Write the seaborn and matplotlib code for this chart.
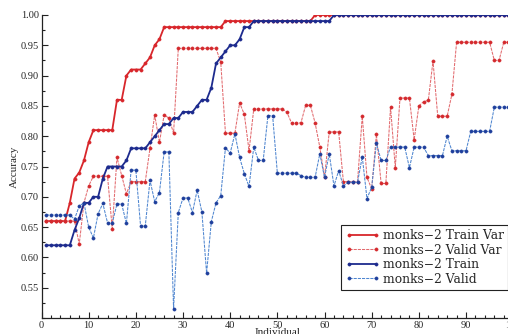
import matplotlib
matplotlib.use("Agg")
import matplotlib.pyplot as plt
import seaborn as sns
import pandas as pd
from matplotlib.ticker import MultipleLocator, FormatStrFormatter

# Generation index of each individual
individual = list(range(1, 101))

# Accuracy with variable-length encoding, training set
train_var = [
    0.66, 0.66, 0.66, 0.66, 0.66, 0.69, 0.73, 0.74, 0.76, 0.79,
    0.81, 0.81, 0.81, 0.81, 0.81, 0.86, 0.86, 0.90, 0.91, 0.91,
    0.91, 0.92, 0.93, 0.95, 0.96, 0.98, 0.98, 0.98, 0.98, 0.98,
    0.98, 0.98, 0.98, 0.98, 0.98, 0.98, 0.98, 0.98, 0.99, 0.99,
    0.99, 0.99, 0.99, 0.99, 0.99, 0.99, 0.99, 0.99, 0.99, 0.99,
    0.99, 0.99, 0.99, 0.99, 0.99, 0.99, 0.99, 1.00, 1.00, 1.00,
    1.00, 1.00, 1.00, 1.00, 1.00, 1.00, 1.00, 1.00, 1.00, 1.00,
    1.00, 1.00, 1.00, 1.00, 1.00, 1.00, 1.00, 1.00, 1.00, 1.00,
    1.00, 1.00, 1.00, 1.00, 1.00, 1.00, 1.00, 1.00, 1.00, 1.00,
    1.00, 1.00, 1.00, 1.00, 1.00, 1.00, 1.00, 1.00, 1.00, 1.00,
]

# Accuracy with variable-length encoding, validation set
valid_var = [
    0.66, 0.66, 0.66, 0.66, 0.66, 0.66, 0.66, 0.622, 0.69, 0.718,
    0.734, 0.734, 0.734, 0.734, 0.647, 0.765, 0.735, 0.705, 0.725, 0.725,
    0.725, 0.725, 0.78, 0.835, 0.79, 0.835, 0.83, 0.805, 0.945, 0.945,
    0.945, 0.945, 0.945, 0.945, 0.945, 0.945, 0.945, 0.922, 0.805, 0.805,
    0.805, 0.855, 0.836, 0.776, 0.845, 0.845, 0.845, 0.845, 0.845, 0.845,
    0.845, 0.84, 0.822, 0.822, 0.822, 0.851, 0.851, 0.822, 0.782, 0.732,
    0.807, 0.807, 0.807, 0.725, 0.725, 0.725, 0.725, 0.833, 0.732, 0.713,
    0.803, 0.722, 0.722, 0.848, 0.748, 0.863, 0.863, 0.863, 0.794, 0.85,
    0.857, 0.859, 0.924, 0.833, 0.833, 0.833, 0.869, 0.955, 0.955, 0.955,
    0.955, 0.955, 0.955, 0.955, 0.955, 0.925, 0.925, 0.955, 0.955, 0.955,
]

# Accuracy with fixed encoding, training set
train = [
    0.62, 0.62, 0.62, 0.62, 0.62, 0.62, 0.645, 0.665, 0.69, 0.69,
    0.70, 0.70, 0.73, 0.75, 0.75, 0.75, 0.75, 0.76, 0.78, 0.78,
    0.78, 0.78, 0.79, 0.80, 0.81, 0.82, 0.82, 0.83, 0.83, 0.84,
    0.84, 0.84, 0.85, 0.86, 0.86, 0.88, 0.92, 0.93, 0.94, 0.95,
    0.95, 0.96, 0.98, 0.98, 0.99, 0.99, 0.99, 0.99, 0.99, 0.99,
    0.99, 0.99, 0.99, 0.99, 0.99, 0.99, 0.99, 0.99, 0.99, 0.99,
    0.99, 1.00, 1.00, 1.00, 1.00, 1.00, 1.00, 1.00, 1.00, 1.00,
    1.00, 1.00, 1.00, 1.00, 1.00, 1.00, 1.00, 1.00, 1.00, 1.00,
    1.00, 1.00, 1.00, 1.00, 1.00, 1.00, 1.00, 1.00, 1.00, 1.00,
    1.00, 1.00, 1.00, 1.00, 1.00, 1.00, 1.00, 1.00, 1.00, 1.00,
]

# Accuracy with fixed encoding, validation set
valid = [
    0.67, 0.67, 0.67, 0.67, 0.67, 0.67, 0.663, 0.685, 0.69, 0.65,
    0.632, 0.672, 0.689, 0.657, 0.657, 0.688, 0.688, 0.656, 0.744, 0.744,
    0.652, 0.652, 0.727, 0.692, 0.707, 0.774, 0.774, 0.515, 0.674, 0.698,
    0.698, 0.674, 0.711, 0.675, 0.574, 0.659, 0.69, 0.702, 0.781, 0.772,
    0.804, 0.765, 0.738, 0.717, 0.782, 0.76, 0.76, 0.834, 0.834, 0.739,
    0.739, 0.739, 0.739, 0.739, 0.735, 0.732, 0.732, 0.732, 0.771, 0.732,
    0.771, 0.718, 0.743, 0.718, 0.724, 0.724, 0.724, 0.766, 0.697, 0.716,
    0.788, 0.76, 0.76, 0.782, 0.782, 0.782, 0.782, 0.748, 0.782, 0.782,
    0.782, 0.768, 0.768, 0.768, 0.768, 0.80, 0.776, 0.776, 0.776, 0.776,
    0.808, 0.808, 0.808, 0.808, 0.808, 0.848, 0.848, 0.848, 0.848, 0.848,
]

labels = ["monks\u22122 Train Var", "monks\u22122 Valid Var",
          "monks\u22122 Train", "monks\u22122 Valid"]
y_ticks = [0.55, 0.60, 0.65, 0.70, 0.75, 0.80, 0.85, 0.90, 0.95, 1.00]
x_ticks = [0, 10, 20, 30, 40, 50, 60, 70, 80, 90, 100]

df = pd.DataFrame({
    "Individual": individual,
    labels[0]: train_var,
    labels[1]: valid_var,
    labels[2]: train,
    labels[3]: valid,
})

sns.set_style("ticks")
plt.rcParams["font.family"] = ["Liberation Serif", "DejaVu Serif"]

fig = plt.figure(figsize=(5.08, 3.34), dpi=100)
ax = fig.add_axes([41.5 / 508, 16 / 334, 471.7 / 508, 303 / 334])

styles = [
    dict(color="#d8262b", linewidth=1.3, linestyle="-", mfc="#d8262b", mec="#d8262b"),
    dict(color="#e26a6e", linewidth=0.75, linestyle=(0, (3, 1)), mfc="#d42a2e", mec="#d42a2e"),
    dict(color="#1d2b8e", linewidth=1.3, linestyle="-", mfc="#1d2b8e", mec="#1d2b8e"),
    dict(color="#4f86d0", linewidth=0.75, linestyle=(0, (3, 1)), mfc="#1f3f9c", mec="#1f3f9c"),
]

for lab, st in zip(labels, styles):
    sns.lineplot(data=df, x="Individual", y=lab, ax=ax, label=lab,
                 marker="o", markersize=2.3, markeredgewidth=0.4, **st)

ax.set_xlim(0, 100)
ax.set_ylim(0.5, 1.0)
ax.set_xticks(x_ticks)
ax.set_yticks(y_ticks)
ax.yaxis.set_major_formatter(FormatStrFormatter("%.2f"))
ax.xaxis.set_minor_locator(MultipleLocator(2))
ax.yaxis.set_minor_locator(MultipleLocator(0.025))
ax.tick_params(which="both", direction="in", color="#222222", width=0.8)
ax.tick_params(which="major", length=4, labelsize=7.5, pad=2)
ax.tick_params(which="minor", length=2)

for side in ("top", "right"):
    ax.spines[side].set_visible(False)
for side in ("left", "bottom"):
    ax.spines[side].set_color("#222222")
    ax.spines[side].set_linewidth(0.9)

ax.set_xlabel("Individual", fontsize=8, labelpad=-1)
ax.set_ylabel("Accuracy", fontsize=8, labelpad=1)
ax.grid(False)

leg = ax.legend(loc="upper left", bbox_to_anchor=((341 - 41.5) / 471.7, (318 - 225) / 303),
                borderaxespad=0, frameon=True, fancybox=False, framealpha=1,
                edgecolor="#222222", numpoints=2, handlelength=2.8,
                handletextpad=0.3, labelspacing=0.12, borderpad=0.35,
                prop={"family": "DejaVu Serif", "size": 8.8})
leg.get_frame().set_linewidth(0.8)

fig.savefig("out.png", dpi=100)
